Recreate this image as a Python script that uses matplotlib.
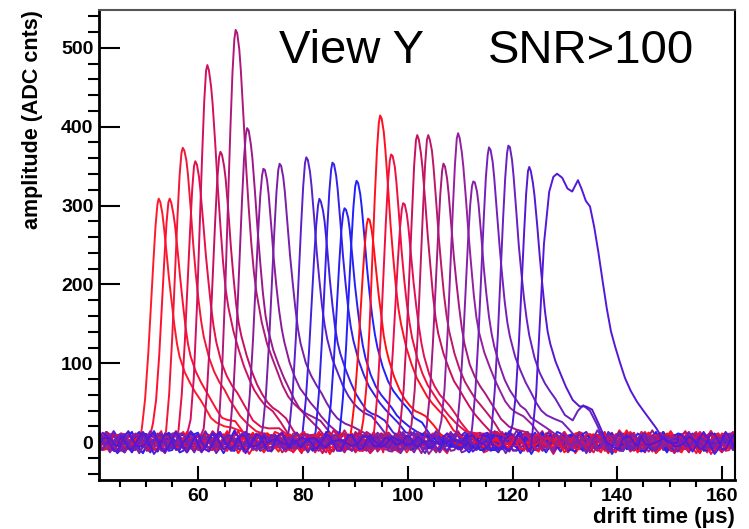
import numpy as np
import matplotlib
matplotlib.use("Agg")
import matplotlib.pyplot as plt
from matplotlib.ticker import MultipleLocator

plt.rcParams['font.family'] = ['Liberation Sans', 'DejaVu Sans']

# peak time (us), peak amplitude (ADC), colour of each single-peak waveform
peak_t = [52.4, 54.5, 57.0, 59.4, 61.7, 64.2, 67.1, 69.3, 72.4, 75.5,
          80.6, 83.1, 85.6, 87.9, 90.2, 92.4, 94.7, 96.8, 99.1, 101.8,
          103.9, 106.8, 109.6, 112.5, 115.5, 119.2, 123.2]
peak_amp = [306, 308, 375, 355, 478, 369, 523, 399, 348, 353,
            361, 308, 355, 298, 331, 282, 413, 366, 303, 388,
            389, 351, 390, 333, 373, 375, 348]
colors = ['#ff1a2a', '#ff1030', '#f01838', '#e41048', '#d21060', '#c41064',
          '#b01878', '#9c1888', '#8a1c9c', '#7820a8', '#5c20c8', '#4020dc',
          '#3420e8', '#2820f0', '#2020ff', '#ff1010', '#ff1020', '#f01040',
          '#e41050', '#c81060', '#bc1868', '#a41880', '#9420a0', '#8420a8',
          '#7420b8', '#6820c0', '#5418d0']

# pulse shape: time from peak (us), fraction of peak
shape_dt = [-3.8, -3.2, -2.6, -2.0, -1.5, -1.0, -0.6, -0.25, 0.0, 0.3, 0.7,
            1.0, 1.5, 2.0, 2.5, 3.0, 3.5, 4.0, 5.0, 6.0, 7.0, 8.0, 9.0, 10.0,
            11.0, 12.5, 14.0, 16.0, 18.0]
shape_frac = [0.0, 0.05, 0.17, 0.36, 0.56, 0.76, 0.9, 0.98, 1.0, 0.99, 0.95,
              0.9, 0.79, 0.67, 0.57, 0.48, 0.41, 0.36, 0.29, 0.24, 0.2, 0.17,
              0.14, 0.115, 0.095, 0.07, 0.045, 0.02, 0.0]

# the long double-peaked waveform at ~130 us
wide_t = [123.5, 124.5, 125.3, 126.0, 127.0, 127.8, 128.5, 129.5, 130.5,
          131.4, 132.0, 132.5, 133.2, 134.0, 134.8, 135.6, 136.4, 137.2,
          138.0, 138.8, 139.6, 140.5, 141.5, 142.6, 143.8, 145.0, 146.3,
          147.5, 148.5, 150.0, 151.5]
wide_amp = [0, 60, 160, 250, 318, 338, 342, 335, 320, 316, 326, 333, 322,
            306, 298, 272, 240, 205, 170, 142, 121, 100, 82, 65, 50, 38, 27,
            18, 12, 5, 0]
wide_color = '#5418d8'

# tails with the small after-pulse seen at ~133 us on two late traces
bump_idx = [25, 26]
bump_t = [[128.5, 130.0, 131.5, 132.5, 133.5, 134.8, 136.0, 137.5, 139.0],
          [131.5, 132.8, 134.0, 135.2, 136.5, 138.0, 140.0]]
bump_amp = [[50, 36, 33, 42, 46, 36, 20, 6, 0],
            [56, 46, 44, 38, 20, 5, 0]]

# baseline noise patterns (ADC), read as typical wiggles of the baseline
noise_a = [4, -3, -8, -5, 1, 6, 9, 3, -4, -10, -6, 0, 5, 8, 1, -5, -9, -3, 4,
           10, 6, -1, -8, -4, 3, 8, 4, -3, -6, -1, 5, 9, 3, -5, -10, -4, 1, 6,
           5, -1, -6, -8, 0, 4, 8, 3, -4]
noise_b = [1, 4, 3, -1, -4, -3, 0, 3, 5, 1, -3, -5, -1, 3, 4, 0, -4, -3, 1,
           4, 3, -1, -5, -3, 1, 5, 3, -1, -4, -1, 3]

t0, t1, dt_s = 41.0, 162.5, 0.7
grid = np.arange(t0, t1 + dt_s, dt_s)


def noise(k, n):
    i = np.arange(n)
    a = np.array(noise_a)[(i + 7 * k) % len(noise_a)]
    b = np.array(noise_b)[(i + 11 * k) % len(noise_b)]
    sgn = 1 if k % 2 == 0 else -1
    return sgn * a + b


def waveform(k, knot_t, knot_y):
    knot_t = np.asarray(knot_t, float)
    knot_y = np.asarray(knot_y, float)
    before = grid[grid < knot_t[0]]
    after = grid[grid > knot_t[-1]]
    x = np.concatenate([before, knot_t, after])
    nz = noise(k, len(x))
    scale = np.concatenate([np.ones(len(before)),
                            np.clip(1 - knot_y / 60.0, 0.2, 1.0),
                            np.ones(len(after))])
    y = np.concatenate([np.zeros(len(before)), knot_y, np.zeros(len(after))])
    return x, y + nz * scale


fig = plt.figure(figsize=(7.49, 5.29), dpi=100)
ax = fig.add_axes([99 / 749, 49 / 529, 636 / 749, 470 / 529])

for k, (tp, amp, c) in enumerate(zip(peak_t, peak_amp, colors)):
    kt = list(np.array(shape_dt) + tp)
    ky = list(np.array(shape_frac) * amp)
    if k in bump_idx:
        j = bump_idx.index(k)
        keep = [i for i, t in enumerate(kt) if t < bump_t[j][0]]
        kt = [kt[i] for i in keep] + bump_t[j]
        ky = [ky[i] for i in keep] + bump_amp[j]
    x, y = waveform(k, kt, ky)
    ax.plot(x, y, color=c, lw=1.4)

x, y = waveform(len(peak_t), wide_t, wide_amp)
ax.plot(x, y, color=wide_color, lw=1.4)

ax.set_xlim(41, 162.5)
ax.set_ylim(-48, 548)

ax.xaxis.set_major_locator(MultipleLocator(20))
ax.xaxis.set_minor_locator(MultipleLocator(5))
ax.yaxis.set_major_locator(MultipleLocator(100))
ax.yaxis.set_minor_locator(MultipleLocator(20))
ax.tick_params(axis='both', direction='in', width=1.5, labelsize=14,
               top=False, right=False)
ax.tick_params(axis='y', which='major', length=15, pad=4)
ax.tick_params(axis='y', which='minor', length=8, width=1.5)
ax.tick_params(axis='x', which='major', length=10, pad=6)
ax.tick_params(axis='x', which='minor', length=5, width=1.5)
for lab in ax.get_xticklabels() + ax.get_yticklabels():
    lab.set_fontweight('bold')

for s in ['left', 'bottom']:
    ax.spines[s].set_linewidth(2.0)
ax.spines['right'].set_linewidth(1.5)
ax.spines['top'].set_linewidth(1.5)
ax.spines['top'].set_color('#555555')

ax.set_ylabel('amplitude (ADC cnts)', fontsize=15.5, fontweight='bold',
              loc='top', labelpad=13)
ax.set_xlabel('drift time (\u03bcs)', fontsize=16, fontweight='bold',
              loc='right', labelpad=1)

ax.text(0.283, 0.887, 'View Y', transform=ax.transAxes, fontsize=34,
        va='baseline', ha='left')
ax.text(0.612, 0.887, 'SNR>100', transform=ax.transAxes, fontsize=34,
        va='baseline', ha='left')

fig.savefig('out.png', dpi=100)
